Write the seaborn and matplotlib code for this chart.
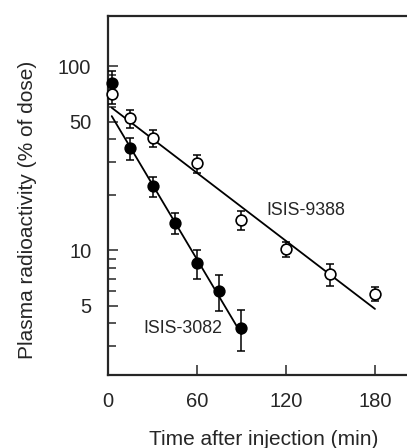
import numpy as np
import pandas as pd
import matplotlib
matplotlib.use("Agg")
import matplotlib.pyplot as plt
import seaborn as sns
from matplotlib.ticker import FixedLocator, NullFormatter

sns.set_style("ticks")
plt.rcParams["font.family"] = ["Liberation Sans", "DejaVu Sans"]

# ISIS-3082 (filled circles)
t_3082 = [2.5, 15, 30, 45, 60, 75, 90]
v_3082 = [80.9, 35.8, 22.3, 14.1, 8.5, 6.0, 3.8]
sd_3082 = [13.0, 5.0, 2.8, 1.9, 1.5, 1.3, 0.95]
fit_t_3082 = [2.5, 90]
fit_v_3082 = [53.5, 3.5]

# ISIS-9388 (open circles)
t_9388 = [2.5, 15, 30, 60, 90, 120, 150, 180]
v_9388 = [70.2, 52.0, 40.7, 29.6, 14.6, 10.1, 7.4, 5.8]
sd_9388 = [8.0, 5.7, 4.4, 3.4, 1.75, 0.95, 1.0, 0.53]
fit_t_9388 = [2.5, 180]
fit_v_9388 = [59.4, 4.8]

x_ticks = [0, 60, 120, 180]
y_ticks = [5, 10, 50, 100]
y_minor = [2, 3, 4, 6, 7, 8, 9, 20, 30, 40, 60, 70, 80, 90]

fig = plt.figure(figsize=(4.07, 4.48), dpi=100)
ax = fig.add_axes([0.2654, 0.1629, 0.7346, 0.8013])

fit_a = pd.DataFrame({"t": fit_t_3082, "v": fit_v_3082})
fit_b = pd.DataFrame({"t": fit_t_9388, "v": fit_v_9388})
sns.lineplot(data=fit_a, x="t", y="v", ax=ax, color="black", lw=1.3, zorder=2)
sns.lineplot(data=fit_b, x="t", y="v", ax=ax, color="black", lw=1.3, zorder=2)

ax.errorbar(t_3082, v_3082, yerr=sd_3082, fmt="none", ecolor="black",
            elinewidth=1.1, capsize=3, capthick=1.1, zorder=3)
ax.errorbar(t_9388, v_9388, yerr=sd_9388, fmt="none", ecolor="black",
            elinewidth=1.1, capsize=3, capthick=1.1, zorder=3)

pts_a = pd.DataFrame({"t": t_3082, "v": v_3082})
pts_b = pd.DataFrame({"t": t_9388, "v": v_9388})
sns.scatterplot(data=pts_a, x="t", y="v", ax=ax, s=60, color="black",
                edgecolor="black", linewidth=1.1, zorder=4, clip_on=False)
sns.scatterplot(data=pts_b, x="t", y="v", ax=ax, s=60, color="white",
                edgecolor="black", linewidth=1.2, zorder=4, clip_on=False)

ax.set_yscale("log")
ax.set_xlim(0, 201.6)
ax.set_ylim(2.1, 187)

ax.set_xticks(x_ticks)
ax.set_xticklabels([str(x) for x in x_ticks])
ax.yaxis.set_major_locator(FixedLocator(y_ticks))
ax.set_yticklabels([str(y) for y in y_ticks])
ax.yaxis.set_minor_locator(FixedLocator(y_minor))
ax.yaxis.set_minor_formatter(NullFormatter())

ax.tick_params(axis="both", which="major", direction="in", length=7.5, width=1.1,
               labelsize=14.5, pad=12)
ax.tick_params(axis="y", which="minor", direction="in", length=6, width=1.1)

for side in ["left", "bottom", "top"]:
    ax.spines[side].set_linewidth(1.6)
ax.spines["right"].set_visible(False)

ax.set_xlabel("Time after injection (min)", fontsize=15, labelpad=14)
ax.xaxis.label.set_x(0.522)
ax.set_ylabel("Plasma radioactivity (% of dose)", fontsize=15)
ax.yaxis.set_label_coords(-0.237, 0.46)

ax.text(106.5, 16.5, "ISIS-9388", fontsize=12.8, va="center", ha="left")
ax.text(23.6, 3.77, "ISIS-3082", fontsize=12.8, va="center", ha="left")

fig.savefig("out.png", dpi=100)
